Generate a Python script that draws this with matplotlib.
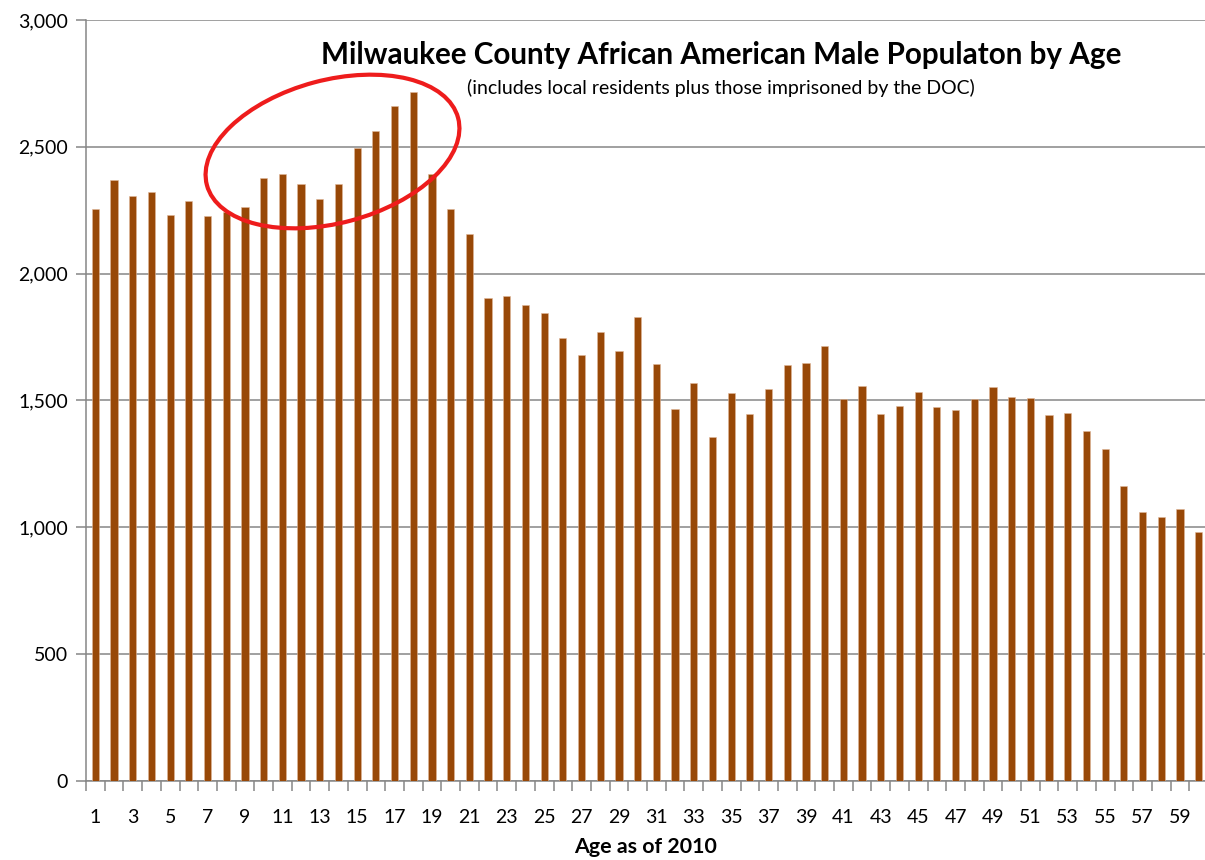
import numpy as np
import matplotlib
matplotlib.use("Agg")
from matplotlib import pyplot as plt
from matplotlib.patches import Ellipse
from matplotlib.ticker import FuncFormatter, MultipleLocator

plt.rcParams['font.family'] = ['Lato', 'DejaVu Sans']

# population by age
ages = np.arange(1, 61)
population = [2256, 2368, 2305, 2320, 2230, 2285, 2229, 2243, 2262, 2377,
              2392, 2355, 2296, 2355, 2494, 2561, 2661, 2718, 2391, 2256,
              2155, 1905, 1910, 1875, 1846, 1745, 1680, 1770, 1696, 1828,
              1642, 1466, 1570, 1357, 1530, 1447, 1546, 1641, 1646, 1715,
              1504, 1556, 1447, 1479, 1535, 1474, 1462, 1507, 1554, 1514,
              1509, 1441, 1451, 1378, 1310, 1163, 1061, 1042, 1074, 980]
tick_labels = [str(a) for a in ages[::2]]

title = "Milwaukee County African American Male Populaton by Age"
subtitle = "(includes local residents plus those imprisoned by the DOC)"
xlabel = "Age as of 2010"

W, H = 1205, 860
fig = plt.figure(figsize=(W/100, H/100), dpi=100)
ax = fig.add_axes([86/W, (H-781)/H, (1208-86)/W, (781-20)/H])

grid_c = '#868686'
ax.bar(ages, population, width=0.39, color='#984807', edgecolor='#e0b89a',
       linewidth=0.4, zorder=3)

ax.set_xlim(0.5, 60.5)
ax.set_ylim(0, 3000)
ax.yaxis.set_major_locator(MultipleLocator(500))
ax.yaxis.set_major_formatter(FuncFormatter(lambda v, p: f"{int(v):,}"))
ax.grid(axis='y', color=grid_c, linewidth=1.1, zorder=0)

ax.set_xticks(ages[::2])
ax.set_xticklabels(tick_labels)
ax.set_xticks(np.arange(0.5, 61, 1), minor=True)
ax.tick_params(axis='x', which='major', length=0, pad=20, labelsize=14)
ax.tick_params(axis='x', which='minor', length=7, width=1.1, color=grid_c)
ax.tick_params(axis='y', length=7, width=1.1, color=grid_c, labelsize=14, pad=6)

for s in ['top', 'right']:
    ax.spines[s].set_visible(False)
for s in ['left', 'bottom']:
    ax.spines[s].set_color(grid_c)
    ax.spines[s].set_linewidth(1.1)

fig.text(721.5/W, 1 - 55/H, title, ha='center', va='center',
         fontsize=21.3, fontweight='bold')
fig.text(721/W, 1 - 88/H, subtitle, ha='center', va='center', fontsize=14)
fig.text(646/W, 1 - 847/H, xlabel, ha='center', va='center',
         fontsize=15.4, fontweight='bold')

# red ring drawn around ages 8-18
ring = Ellipse((332.5/100, (H-151.5)/100), width=2.6, height=1.43, angle=15,
               transform=fig.dpi_scale_trans, fill=False, edgecolor='#ee1c1c',
               linewidth=3, zorder=10)
fig.add_artist(ring)

fig.savefig('out.png', dpi=100)
